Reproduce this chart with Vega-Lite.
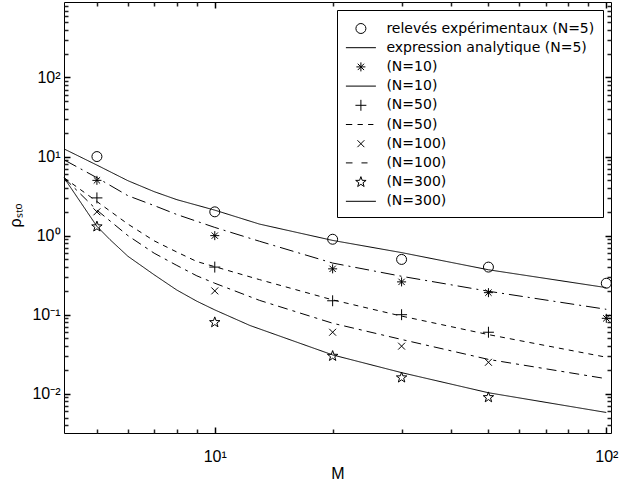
{
  "$schema": "https://vega.github.io/schema/vega-lite/v6.json",
  "width": 547,
  "height": 431,
  "autosize": {"type": "none"},
  "padding": {"left": 64, "top": 2, "right": 30, "bottom": 55},
  "background": "white",
  "config": {
    "view": {"stroke": "black", "strokeWidth": 1},
    "axis": {"domain": false, "grid": false, "labelColor": "black", "titleColor": "black", "labelFont": "Liberation Sans", "titleFont": "Liberation Sans", "labelFontSize": 16, "titleFontSize": 16, "titleFontWeight": "normal", "labelOverlap": false, "labelFlush": false}
  },
  "datasets": {
    "courbes": [
      {"serie": "a5", "M": 4.12, "p": 12.5}, {"serie": "a5", "M": 5, "p": 7.8}, {"serie": "a5", "M": 6, "p": 4.95}, {"serie": "a5", "M": 7, "p": 3.6}, {"serie": "a5", "M": 8, "p": 2.85}, {"serie": "a5", "M": 10, "p": 2.1}, {"serie": "a5", "M": 13, "p": 1.4}, {"serie": "a5", "M": 20, "p": 0.87}, {"serie": "a5", "M": 30, "p": 0.61}, {"serie": "a5", "M": 50, "p": 0.37}, {"serie": "a5", "M": 100, "p": 0.22},
      {"serie": "a10", "M": 4.12, "p": 9.1}, {"serie": "a10", "M": 5, "p": 5.4}, {"serie": "a10", "M": 6, "p": 3.2}, {"serie": "a10", "M": 7, "p": 2.4}, {"serie": "a10", "M": 8, "p": 1.85}, {"serie": "a10", "M": 10, "p": 1.27}, {"serie": "a10", "M": 13, "p": 0.85}, {"serie": "a10", "M": 20, "p": 0.45}, {"serie": "a10", "M": 30, "p": 0.306}, {"serie": "a10", "M": 50, "p": 0.198}, {"serie": "a10", "M": 100, "p": 0.117},
      {"serie": "a50", "M": 4.12, "p": 5.4}, {"serie": "a50", "M": 5, "p": 2.7}, {"serie": "a50", "M": 6, "p": 1.4}, {"serie": "a50", "M": 7, "p": 0.86}, {"serie": "a50", "M": 8, "p": 0.62}, {"serie": "a50", "M": 9, "p": 0.47}, {"serie": "a50", "M": 10, "p": 0.405}, {"serie": "a50", "M": 13, "p": 0.278}, {"serie": "a50", "M": 20, "p": 0.154}, {"serie": "a50", "M": 30, "p": 0.096}, {"serie": "a50", "M": 50, "p": 0.056}, {"serie": "a50", "M": 100, "p": 0.029},
      {"serie": "a100", "M": 4.12, "p": 5.4}, {"serie": "a100", "M": 5, "p": 2.1}, {"serie": "a100", "M": 6, "p": 1.0}, {"serie": "a100", "M": 7, "p": 0.6}, {"serie": "a100", "M": 8, "p": 0.42}, {"serie": "a100", "M": 9, "p": 0.31}, {"serie": "a100", "M": 10, "p": 0.25}, {"serie": "a100", "M": 13, "p": 0.152}, {"serie": "a100", "M": 20, "p": 0.078}, {"serie": "a100", "M": 30, "p": 0.0486}, {"serie": "a100", "M": 50, "p": 0.0272}, {"serie": "a100", "M": 100, "p": 0.0155},
      {"serie": "a300", "M": 4.12, "p": 5.4}, {"serie": "a300", "M": 5, "p": 1.31}, {"serie": "a300", "M": 5.4, "p": 0.89}, {"serie": "a300", "M": 6, "p": 0.548}, {"serie": "a300", "M": 7, "p": 0.32}, {"serie": "a300", "M": 8, "p": 0.205}, {"serie": "a300", "M": 9, "p": 0.148}, {"serie": "a300", "M": 10, "p": 0.115}, {"serie": "a300", "M": 12.3, "p": 0.073}, {"serie": "a300", "M": 20, "p": 0.031}, {"serie": "a300", "M": 30, "p": 0.0185}, {"serie": "a300", "M": 50, "p": 0.0103}, {"serie": "a300", "M": 100, "p": 0.0058}
    ],
    "releves": [
      {"serie": "e5", "M": 5, "p": 10}, {"serie": "e5", "M": 10, "p": 2}, {"serie": "e5", "M": 20, "p": 0.9}, {"serie": "e5", "M": 30, "p": 0.5}, {"serie": "e5", "M": 50, "p": 0.4}, {"serie": "e5", "M": 100, "p": 0.25},
      {"serie": "e10", "M": 5, "p": 5}, {"serie": "e10", "M": 10, "p": 1}, {"serie": "e10", "M": 20, "p": 0.38}, {"serie": "e10", "M": 30, "p": 0.26}, {"serie": "e10", "M": 50, "p": 0.19}, {"serie": "e10", "M": 100, "p": 0.09},
      {"serie": "e50", "M": 5, "p": 3}, {"serie": "e50", "M": 10, "p": 0.4}, {"serie": "e50", "M": 20, "p": 0.15}, {"serie": "e50", "M": 30, "p": 0.1}, {"serie": "e50", "M": 50, "p": 0.06},
      {"serie": "e100", "M": 5, "p": 2}, {"serie": "e100", "M": 10, "p": 0.2}, {"serie": "e100", "M": 20, "p": 0.06}, {"serie": "e100", "M": 30, "p": 0.04}, {"serie": "e100", "M": 50, "p": 0.025},
      {"serie": "e300", "M": 5, "p": 1.3}, {"serie": "e300", "M": 10, "p": 0.08}, {"serie": "e300", "M": 20, "p": 0.03}, {"serie": "e300", "M": 30, "p": 0.016}, {"serie": "e300", "M": 50, "p": 0.009}
    ]
  },
  "layer": [
    {
      "data": {"name": "courbes"},
      "mark": {"type": "line", "color": "black", "strokeWidth": 1},
      "encoding": {
        "x": {"field": "M", "type": "quantitative", "scale": {"type": "log", "domain": [4.12, 102.8], "nice": false},
          "axis": {"orient": "bottom", "values": [10, 100], "tickSize": -6, "tickColor": "#000000", "tickWidth": 1.5, "labelPadding": 21, "labelExpr": "datum.value < 50 ? '10¹' : '10²'", "title": "M", "titlePadding": 1}},
        "y": {"field": "p", "type": "quantitative", "scale": {"type": "log", "domain": [0.00319, 901], "nice": false},
          "axis": {"orient": "left", "values": [0.01, 0.1, 1, 10, 100], "tickSize": -6, "tickColor": "#000000", "tickWidth": 1.5, "labelPadding": 10, "labelExpr": "datum.value < 0.05 ? '10⁻²' : datum.value < 0.5 ? '10⁻¹' : datum.value < 5 ? '10⁰' : datum.value < 50 ? '10¹' : '10²'", "title": "ρₛₜₒ", "titlePadding": 8, "titleY": 213}},
        "strokeDash": {"field": "serie", "type": "nominal", "legend": null,
          "scale": {"domain": ["a5", "a10", "a50", "a100", "a300"], "range": [[1, 0], [14, 5, 2, 5], [5, 5], [10, 5, 3, 5], [1, 0]]}}
      }
    },
    {
      "data": {"name": "releves"},
      "mark": {"type": "point", "color": "black", "strokeWidth": 1, "size": 369, "filled": false, "opacity": 1},
      "encoding": {
        "x": {"field": "M", "type": "quantitative", "scale": {"type": "log", "domain": [4.12, 102.8], "nice": false},
          "axis": {"orient": "bottom", "values": [5, 6, 7, 8, 9, 20, 30, 40, 50, 60, 70, 80, 90], "tickSize": -4, "tickColor": "#222222", "tickWidth": 1.5, "labels": false, "title": null}},
        "y": {"field": "p", "type": "quantitative", "scale": {"type": "log", "domain": [0.00319, 901], "nice": false},
          "axis": {"orient": "left", "values": [0.004, 0.005, 0.006, 0.007, 0.008, 0.009, 0.02, 0.03, 0.04, 0.05, 0.06, 0.07, 0.08, 0.09, 0.2, 0.3, 0.4, 0.5, 0.6, 0.7, 0.8, 0.9, 2, 3, 4, 5, 6, 7, 8, 9, 20, 30, 40, 50, 60, 70, 80, 90, 200, 300, 400, 500, 600, 700, 800], "tickSize": -4, "tickColor": "#222222", "tickWidth": 1.5, "labels": false, "title": null}},
        "shape": {"field": "serie", "type": "nominal",
          "scale": {
            "domain": ["e5", "a5", "e10", "a10", "e50", "a50", "e100", "a100", "e300", "a300"],
            "range": [
              "M0.52,0A0.52,0.52 0 1,1 -0.52,0A0.52,0.52 0 1,1 0.52,0Z",
              "M-1.5625,0H1.5625",
              "M-0.47,0H0.47M0,-0.47V0.47M-0.33,-0.33L0.33,0.33M-0.33,0.33L0.33,-0.33",
              "M-1.5625,0H1.5625",
              "M-0.57,0H0.57M0,-0.57V0.57",
              "M-1.5625,0H-0.9M-0.35,0H0.2M0.75,0H1.3",
              "M-0.36,-0.36L0.36,0.36M-0.36,0.36L0.36,-0.36",
              "M-1.5625,0H-0.875M0.06,0H0.69",
              "M0,-0.57L0.135,-0.186L0.542,-0.176L0.218,0.071L0.335,0.461L0,0.23L-0.335,0.461L-0.218,0.071L-0.542,-0.176L-0.135,-0.186Z",
              "M-1.5625,0H1.5625"
            ]
          },
          "legend": {
            "title": null, "orient": "top-right", "offset": 8, "padding": 8,
            "strokeColor": "black", "fillColor": "white",
            "labelFont": "DejaVu Sans", "labelFontSize": 14, "labelColor": "black", "labelLimit": 400,
            "symbolSize": 369, "symbolStrokeWidth": 1, "symbolStrokeColor": "black", "symbolFillColor": "transparent",
            "symbolOffset": 5.4, "labelOffset": 15, "rowPadding": 1.2,
            "labelExpr": "datum.value == 'e5' ? 'relevés expérimentaux (N=5)' : datum.value == 'a5' ? 'expression analytique (N=5)' : '(N=' + substring(datum.value, 1) + ')'"
          }
        }
      }
    },
    {
      "data": {"name": "releves"},
      "mark": {"type": "point", "opacity": 0, "size": 1},
      "encoding": {
        "x": {"field": "M", "type": "quantitative", "scale": {"type": "log", "domain": [4.12, 102.8], "nice": false},
          "axis": {"orient": "top", "values": [10, 100], "tickSize": -6, "tickColor": "#000000", "tickWidth": 1.5, "labels": false, "title": null}},
        "y": {"field": "p", "type": "quantitative", "scale": {"type": "log", "domain": [0.00319, 901], "nice": false},
          "axis": {"orient": "right", "values": [0.01, 0.1, 1, 10, 100], "tickSize": -6, "tickColor": "#000000", "tickWidth": 1.5, "labels": false, "title": null}}
      }
    },
    {
      "data": {"name": "releves"},
      "mark": {"type": "point", "opacity": 0, "size": 1},
      "encoding": {
        "x": {"field": "M", "type": "quantitative", "scale": {"type": "log", "domain": [4.12, 102.8], "nice": false},
          "axis": {"orient": "top", "values": [5, 6, 7, 8, 9, 20, 30, 40, 50, 60, 70, 80, 90], "tickSize": -4, "tickColor": "#222222", "tickWidth": 1.5, "labels": false, "title": null}},
        "y": {"field": "p", "type": "quantitative", "scale": {"type": "log", "domain": [0.00319, 901], "nice": false},
          "axis": {"orient": "right", "values": [0.004, 0.005, 0.006, 0.007, 0.008, 0.009, 0.02, 0.03, 0.04, 0.05, 0.06, 0.07, 0.08, 0.09, 0.2, 0.3, 0.4, 0.5, 0.6, 0.7, 0.8, 0.9, 2, 3, 4, 5, 6, 7, 8, 9, 20, 30, 40, 50, 60, 70, 80, 90, 200, 300, 400, 500, 600, 700, 800], "tickSize": -4, "tickColor": "#222222", "tickWidth": 1.5, "labels": false, "title": null}}
      }
    }
  ],
  "resolve": {"axis": {"x": "independent", "y": "independent"}}
}
